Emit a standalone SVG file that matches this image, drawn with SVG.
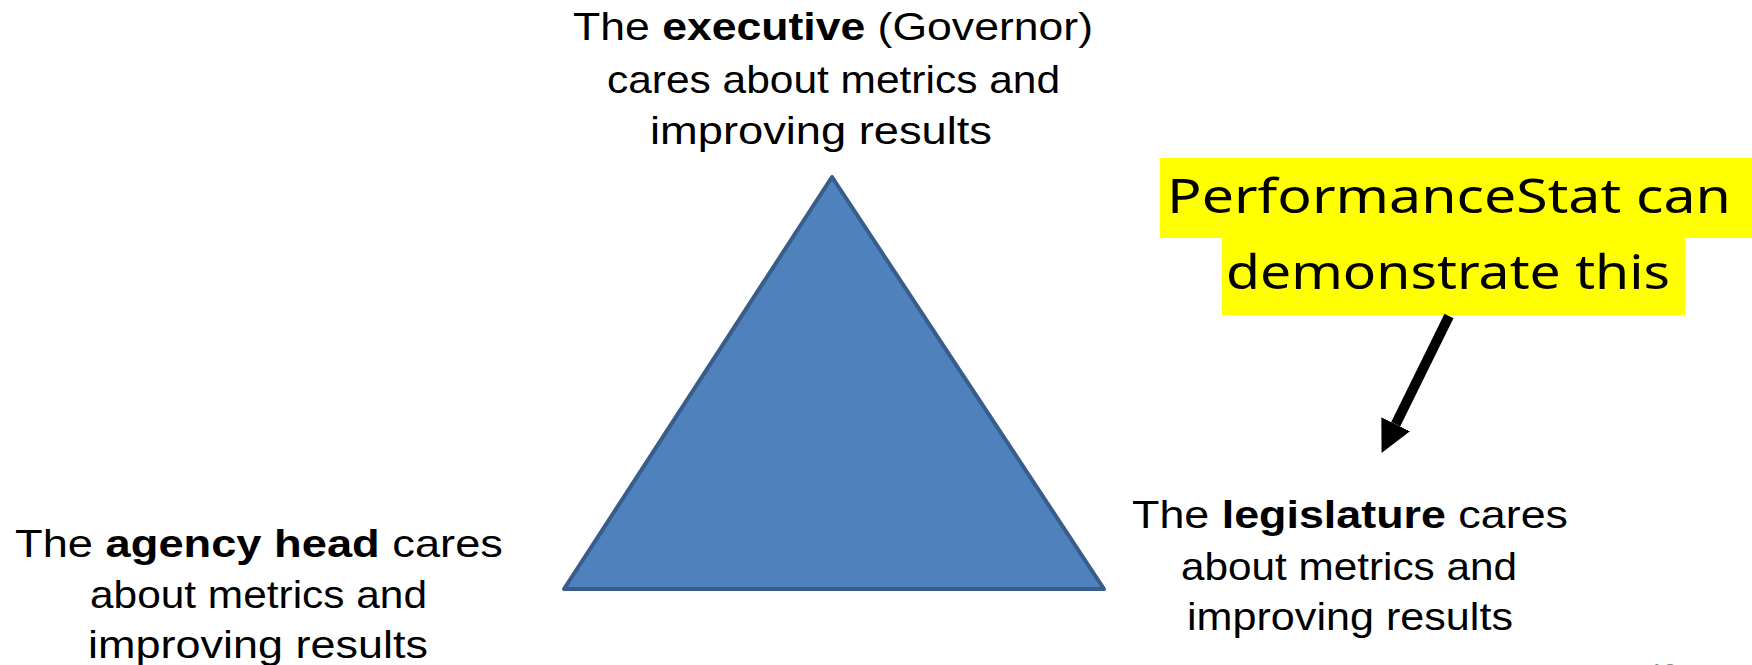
<svg xmlns="http://www.w3.org/2000/svg" width="1752" height="665" viewBox="0 0 1752 665">
<defs>
<style>
.lbl{font-family:"Liberation Sans",Arial,sans-serif;font-size:39px;fill:#000}
.b{font-weight:bold}
.hand{font-family:"Noto Sans","DejaVu Sans",sans-serif;font-size:47px;fill:#000}
.hl{fill:#FFFF00}
.tri{fill:#4F81BD;stroke:#385D8A;stroke-width:4;stroke-linejoin:round}
.arrow{stroke:#000;stroke-width:10;fill:none}
</style>
<marker id="head" markerUnits="userSpaceOnUse" markerWidth="32" markerHeight="32" viewBox="0 0 31 31" refX="0" refY="15.5" orient="auto">
<path d="M0,0 L31,15.5 L0,31 Z" fill="#000"/>
</marker>
</defs>
<rect width="1752" height="665" fill="#fff"/>
<g id="triangle">
<polygon class="tri" points="832,177 1104,589 564,589"/>
</g>
<g id="executive">
<text class="lbl" x="573" y="40" textLength="520" lengthAdjust="spacingAndGlyphs">The <tspan class="b">executive</tspan> (Governor)</text>
<text class="lbl" x="607" y="93" textLength="453" lengthAdjust="spacingAndGlyphs">cares about metrics and</text>
<text class="lbl" x="650" y="144" textLength="342" lengthAdjust="spacingAndGlyphs">improving results</text>
</g>
<g id="agency-head">
<text class="lbl" x="15" y="557" textLength="488" lengthAdjust="spacingAndGlyphs">The <tspan class="b">agency head</tspan> cares</text>
<text class="lbl" x="90" y="608" textLength="337" lengthAdjust="spacingAndGlyphs">about metrics and</text>
<text class="lbl" x="88" y="658" textLength="340" lengthAdjust="spacingAndGlyphs">improving results</text>
</g>
<g id="legislature">
<text class="lbl" x="1132" y="528" textLength="436" lengthAdjust="spacingAndGlyphs">The <tspan class="b">legislature</tspan> cares</text>
<text class="lbl" x="1181" y="580" textLength="336" lengthAdjust="spacingAndGlyphs">about metrics and</text>
<text class="lbl" x="1187" y="630" textLength="326" lengthAdjust="spacingAndGlyphs">improving results</text>
</g>
<g id="callout">
<rect class="hl" x="1160" y="158" width="592" height="80"/>
<rect class="hl" x="1222" y="237" width="463" height="78"/>
<text class="hand" x="1167" y="213" textLength="564" lengthAdjust="spacingAndGlyphs">PerformanceStat can</text>
<text class="hand" x="1226" y="289" textLength="444" lengthAdjust="spacingAndGlyphs">demonstrate this</text>
</g>
<g id="connectors">
<line class="arrow" x1="1449" y1="316" x2="1395.7" y2="424.2" marker-end="url(#head)"/>
</g>
<g id="page-number">
<text x="1650" y="681" font-family="Liberation Sans, Arial, sans-serif" font-size="24" fill="#8C8C8C">12</text>
</g>
</svg>
